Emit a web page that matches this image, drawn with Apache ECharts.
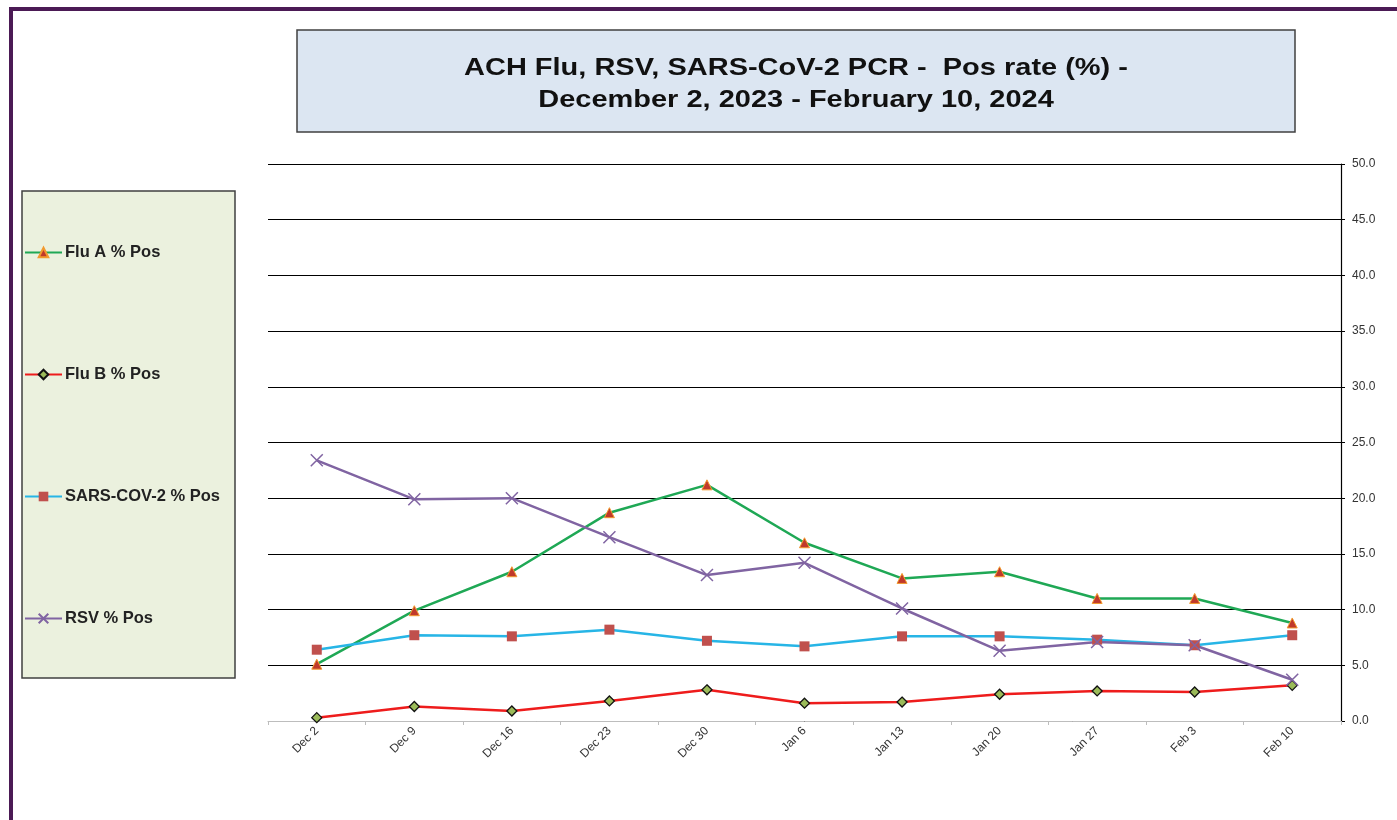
<!DOCTYPE html>
<html>
<head>
<meta charset="utf-8">
<script src="https://cdn.jsdelivr.net/npm/echarts@6/dist/echarts.min.js"></script>
<style>
  html, body { margin: 0; padding: 0; background: #fff; }
  #chart { width: 1397px; height: 820px; }
</style>
</head>
<body>
<div id="chart"></div>
<script>
var weeks = ['Dec 2', 'Dec 9', 'Dec 16', 'Dec 23', 'Dec 30', 'Jan 6', 'Jan 13', 'Jan 20', 'Jan 27', 'Feb 3', 'Feb 10'];
var fluA = [5.1, 9.9, 13.4, 18.7, 21.2, 16.0, 12.8, 13.4, 11.0, 11.0, 8.8];
var fluB = [0.3, 1.3, 0.9, 1.8, 2.8, 1.6, 1.7, 2.4, 2.7, 2.6, 3.2];
var sars = [6.4, 7.7, 7.6, 8.2, 7.2, 6.7, 7.6, 7.6, 7.3, 6.8, 7.7];
var rsv = [23.4, 19.9, 20.0, 16.5, 13.1, 14.2, 10.1, 6.3, 7.1, 6.8, 3.7];
var yTicks = [0, 5, 10, 15, 20, 25, 30, 35, 40, 45, 50];
var titleLines = ['ACH Flu, RSV, SARS-CoV-2 PCR -  Pos rate (%) -', 'December 2, 2023 - February 10, 2024'];

var font = '"Liberation Sans", Arial, sans-serif';
var myChart = echarts.init(document.getElementById('chart'));

var option = {
  backgroundColor: '#fff',
  animation: false,
  graphic: [
    {
      type: 'rect', z: -1,
      shape: { x: 11, y: 9, width: 1400, height: 830 },
      style: { fill: null, stroke: '#4b1a55', lineWidth: 4 }
    },
    {
      type: 'rect', z: -1,
      shape: { x: 297, y: 30, width: 998, height: 102 },
      style: { fill: '#dce6f2', stroke: '#404040', lineWidth: 1.5 }
    },
    {
      type: 'rect', z: -1,
      shape: { x: 22, y: 191, width: 213, height: 487 },
      style: { fill: '#ebf1de', stroke: '#404040', lineWidth: 1.5 }
    },
    {
      // title text, stretched sideways like the picture
      type: 'text', x: 796, y: 85, scaleX: 1.26, scaleY: 1,
      style: {
        text: titleLines.join('\n'),
        font: 'bold 23px ' + font,
        lineHeight: 32,
        fill: '#111',
        align: 'center',
        verticalAlign: 'middle'
      }
    }
  ],
  legend: {
    orient: 'vertical',
    left: 24,
    top: 244,
    padding: 0,
    itemGap: 105,
    itemWidth: 37,
    itemHeight: 12,
    textStyle: { fontFamily: font, fontSize: 16.5, fontWeight: 'bold', color: '#222', padding: [0, 0, 0, -2] },
    data: ['Flu A % Pos', 'Flu B % Pos', 'SARS-COV-2 % Pos', 'RSV % Pos']
  },
  grid: { left: 268, right: 56, top: 164, bottom: 99 },
  xAxis: {
    type: 'category',
    data: weeks,
    boundaryGap: true,
    axisLine: { lineStyle: { color: '#bdbdbd', width: 1 } },
    axisTick: { show: true, length: 4, lineStyle: { color: '#bdbdbd' } },
    axisLabel: { rotate: 45, fontFamily: font, fontSize: 12, color: '#333', margin: 8 },
    splitLine: { show: false }
  },
  yAxis: {
    type: 'value',
    position: 'right',
    min: yTicks[0],
    max: yTicks[yTicks.length - 1],
    interval: 5,
    axisLine: { show: true, lineStyle: { color: '#000', width: 1.2 } },
    axisTick: { show: true, length: 4, lineStyle: { color: '#000' } },
    axisLabel: {
      fontFamily: font, fontSize: 12, color: '#333', margin: 11,
      formatter: function (v) { return v.toFixed(1); }
    },
    splitLine: { show: true, lineStyle: { color: '#000', width: 1.2 } }
  },
  series: [
    {
      name: 'Flu A % Pos', type: 'line', data: fluA,
      symbol: 'triangle', symbolSize: 10,
      lineStyle: { color: '#1fa855', width: 2.5 },
      itemStyle: { color: '#c0392b', borderColor: '#f29a2e', borderWidth: 1 }
    },
    {
      name: 'Flu B % Pos', type: 'line', data: fluB,
      symbol: 'diamond', symbolSize: 10,
      lineStyle: { color: '#ee1c1c', width: 2.5 },
      itemStyle: { color: '#9bbb59', borderColor: '#111', borderWidth: 1.3 }
    },
    {
      name: 'SARS-COV-2 % Pos', type: 'line', data: sars,
      symbol: 'rect', symbolSize: 10,
      lineStyle: { color: '#27b5e6', width: 2.5 },
      itemStyle: { color: '#c0504d', borderColor: '#c0504d', borderWidth: 0 }
    },
    {
      name: 'RSV % Pos', type: 'line', data: rsv,
      symbol: 'path://M0,0 L10,10 M10,0 L0,10', symbolSize: 12,
      lineStyle: { color: '#8064a2', width: 2.5 },
      itemStyle: { color: '#8064a2', borderColor: '#8064a2', borderWidth: 1.5 }
    }
  ]
};

myChart.setOption(option);
</script>
</body>
</html>
